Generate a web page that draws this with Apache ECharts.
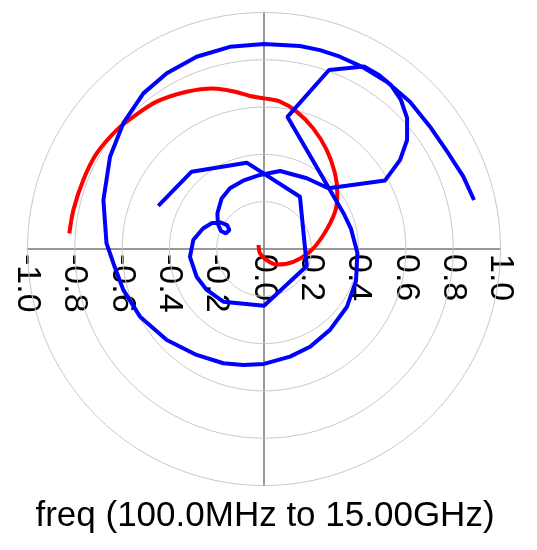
<!DOCTYPE html>
<html>
<head>
<meta charset="utf-8">
<script src="https://cdn.jsdelivr.net/npm/echarts@6/dist/echarts.min.js"></script>
<style>
html,body{margin:0;padding:0;background:#fff;}
#c{width:537px;height:550px;}
</style>
</head>
<body>
<div id="c"></div>
<script>
// ---- data ----
const tickLabels = ['-1.0','-0.8','-0.6','-0.4','-0.2','0.0','0.2','0.4','0.6','0.8','1.0'];
const circleRadii = [0.2, 0.4, 0.6, 0.8, 1.0];
const titleText = 'freq (100.0MHz to 15.00GHz)';

const redX = [-0.823,-0.806,-0.764,-0.707,-0.623,-0.553,-0.454,-0.327,-0.214,-0.123,-0.059,0.000,0.068,0.138,0.208,0.265,0.300,0.310,0.300,0.251,0.195,0.124,0.054,0.011,-0.017,-0.023];
const redY = [0.066,0.165,0.292,0.405,0.503,0.559,0.623,0.665,0.679,0.665,0.647,0.637,0.623,0.581,0.510,0.419,0.320,0.236,0.156,0.059,-0.011,-0.054,-0.066,-0.047,-0.018,0.017];

const blueX = [-0.447,-0.306,-0.073,0.152,0.181,0.000,-0.172,-0.242,-0.285,-0.313,-0.299,-0.258,-0.220,-0.182,-0.156,-0.146,-0.161,-0.182,-0.195,-0.197,-0.179,-0.144,-0.088,-0.017,0.068,0.181,0.272,0.512,0.575,0.605,0.605,0.579,0.537,0.486,0.423,0.275,0.099,0.338,0.368,0.395,0.389,0.351,0.279,0.195,0.110,0.000,-0.088,-0.172,-0.285,-0.411,-0.524,-0.595,-0.637,-0.666,-0.679,-0.651,-0.595,-0.510,-0.411,-0.285,-0.144,0.000,0.152,0.237,0.321,0.413,0.519,0.617,0.702,0.779,0.843,0.888];
const blueY = [0.182,0.327,0.365,0.221,-0.072,-0.240,-0.223,-0.173,-0.117,-0.033,0.038,0.087,0.110,0.112,0.101,0.080,0.066,0.076,0.106,0.151,0.214,0.257,0.289,0.313,0.330,0.299,0.257,0.290,0.376,0.461,0.554,0.630,0.693,0.736,0.772,0.757,0.559,0.148,0.085,-0.017,-0.135,-0.244,-0.342,-0.413,-0.455,-0.486,-0.490,-0.483,-0.448,-0.385,-0.286,-0.173,-0.060,0.025,0.207,0.390,0.532,0.658,0.743,0.813,0.855,0.867,0.858,0.841,0.813,0.771,0.707,0.623,0.517,0.405,0.306,0.207];

const zip = (xs, ys) => xs.map((x, i) => [x, ys[i]]);

const chart = echarts.init(document.getElementById('c'), null, {renderer: 'canvas'});
const FONT = '"Liberation Sans", Arial, sans-serif';
const AXIS_COLOR = '#777';

chart.setOption({
  animation: false,
  backgroundColor: '#fff',
  title: {
    text: titleText,
    left: 265,
    textAlign: 'center',
    top: 499,
    padding: 0,
    textStyle: {fontSize: 35, fontWeight: 'normal', color: '#000', fontFamily: FONT}
  },
  grid: [
    {left: 27.5, right: 36.5, top: 12.5, bottom: 64.5, containLabel: false},
    // upper half only: its bottom edge is the y = 0 line, used to place the tick labels
    {left: 27.5, right: 36.5, top: 12.5, height: 236.5, containLabel: false}
  ],
  xAxis: [
    {
      gridIndex: 0, type: 'value', min: -1, max: 1, interval: 0.2,
      axisLine: {show: true, onZero: true, lineStyle: {color: AXIS_COLOR, width: 1.5}},
      axisTick: {show: false},
      splitLine: {show: false},
      axisLabel: {show: false}
    },
    {
      gridIndex: 1, type: 'value', min: -1, max: 1, interval: 0.2, position: 'bottom',
      axisLine: {show: false, onZero: false},
      axisTick: {show: false},
      splitLine: {show: false},
      axisLabel: {
        rotate: -90, margin: 5, fontSize: 34, color: '#000', fontFamily: FONT,
        showMinLabel: true, showMaxLabel: true, hideOverlap: false,
        formatter: (v, i) => tickLabels[i] !== undefined ? tickLabels[i] : v.toFixed(1)
      }
    }
  ],
  yAxis: [
    {
      gridIndex: 0, type: 'value', min: -1, max: 1, interval: 0.2,
      axisLine: {show: true, onZero: true, lineStyle: {color: AXIS_COLOR, width: 1.5}},
      axisTick: {show: false},
      splitLine: {show: false},
      axisLabel: {show: false}
    },
    {
      gridIndex: 1, type: 'value', min: 0, max: 1, show: false
    }
  ],
  series: [
    {
      type: 'custom',
      coordinateSystem: 'cartesian2d',
      xAxisIndex: 0, yAxisIndex: 0,
      silent: true,
      z: 1,
      clip: false,
      data: circleRadii.map(r => [0, 0, r]),
      encode: {x: 0, y: 1},
      renderItem: (params, api) => {
        const r = api.value(2);
        const pts = [];
        for (let a = 0; a <= 360; a += 2) {
          const t = a * Math.PI / 180;
          pts.push(api.coord([r * Math.cos(t), r * Math.sin(t)]));
        }
        return {type: 'polyline', shape: {points: pts}, style: {stroke: '#c8c8c8', lineWidth: 1, fill: null}};
      }
    },
    {
      type: 'line', name: 'red', data: zip(redX, redY),
      xAxisIndex: 0, yAxisIndex: 0,
      showSymbol: false, smooth: 0.3, z: 3,
      lineStyle: {color: '#ff0000', width: 4}
    },
    {
      type: 'line', name: 'blue', data: zip(blueX, blueY),
      xAxisIndex: 0, yAxisIndex: 0,
      showSymbol: false, smooth: false, z: 4,
      lineStyle: {color: '#0000ff', width: 4}
    }
  ]
});
</script>
</body>
</html>
